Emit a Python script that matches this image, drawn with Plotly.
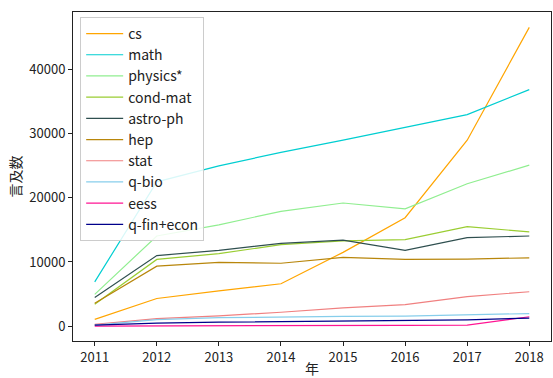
import plotly.graph_objects as go

years = [2011, 2012, 2013, 2014, 2015, 2016, 2017, 2018]

categories = ["cs", "math", "physics*", "cond-mat", "astro-ph",
              "hep", "stat", "q-bio", "eess", "q-fin+econ"]

cs = [1050, 4300, 5500, 6600, 11500, 16900, 29000, 46600]
math = [6900, 22500, 25000, 27100, 29000, 31000, 33000, 36900]
physics = [4950, 14050, 15800, 17900, 19200, 18300, 22200, 25100]
cond_mat = [3400, 10400, 11300, 12700, 13300, 13500, 15500, 14700]
astro_ph = [4450, 11000, 11800, 12900, 13400, 11800, 13800, 14050]
hep = [3550, 9350, 9950, 9800, 10700, 10400, 10450, 10650]
stat = [250, 1150, 1600, 2150, 2850, 3350, 4600, 5350]
q_bio = [150, 1000, 1300, 1450, 1500, 1550, 1700, 1950]
eess = [0, 0, 0, 0, 50, 100, 150, 1450]
q_fin_econ = [150, 450, 600, 700, 800, 900, 950, 1250]

series = [cs, math, physics, cond_mat, astro_ph, hep, stat, q_bio, eess, q_fin_econ]
colors = ["#FFA500", "#00CED1", "#90EE90", "#9ACD32", "#2F4F4F",
          "#B8860B", "#F08080", "#87CEEB", "#FF1493", "#00008B"]

FONT = "Noto Sans CJK JP"

fig = go.Figure()
for name, vals, col in zip(categories, series, colors):
    fig.add_trace(go.Scatter(x=years, y=vals, name=name, mode="lines",
                             line=dict(color=col, width=1.2)))

axis_common = dict(showgrid=False, zeroline=False, showline=True, mirror=True,
                   linecolor="#222", linewidth=1, ticks="outside", ticklen=4,
                   tickcolor="#222", tickfont=dict(family=FONT, size=13, color="#222"))

fig.update_layout(
    width=553, height=378,
    margin=dict(l=73, r=1, t=12, b=32),
    paper_bgcolor="white", plot_bgcolor="white",
    font=dict(family=FONT, color="#222"),
    xaxis=dict(range=[2010.65, 2018.35], tickvals=years,
               title=dict(text="年", font=dict(family=FONT, size=14), standoff=2),
               **axis_common),
    yaxis=dict(range=[-2333, 49003], tickvals=[0, 10000, 20000, 30000, 40000],
               ticktext=["0", "10000", "20000", "30000", "40000"],
               title=dict(text="言及数", font=dict(family=FONT, size=14), standoff=4),
               **axis_common),
    legend=dict(x=0.015, y=0.985, xanchor="left", yanchor="top",
                bgcolor="rgba(255,255,255,0.85)", bordercolor="#cccccc", borderwidth=1,
                font=dict(family=FONT, size=14, color="#222"), tracegroupgap=0,
                itemwidth=37),
    showlegend=True,
)

fig.write_html("out.html")
